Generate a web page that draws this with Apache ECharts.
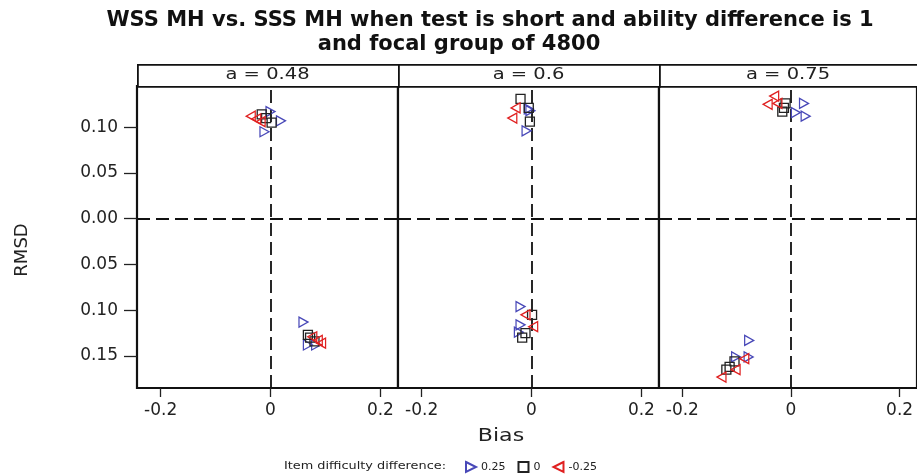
<!DOCTYPE html>
<html><head><meta charset="utf-8">
<script src="https://cdn.jsdelivr.net/npm/echarts@6/dist/echarts.min.js"></script>
<style>html,body{margin:0;padding:0;background:#fff}#c{width:917px;height:475px}</style>
</head><body><div id="c"></div>
<script>
// ---- data ----
const panelLabels = ['a = 0.48', 'a = 0.6', 'a = 0.75'];
const seriesNames = ['0.25', '0', '-0.25'];
const xTicks = [-0.2, 0, 0.2];
const yTicks = [0.10, 0.05, 0.00, -0.05, -0.10, -0.15];
// [bias, rmsd] ; upper half = WSS (positive), lower half = SSS (drawn negative)
const p048_pos = [[0.000, 0.117], [0.019, 0.107], [-0.011, 0.095], [0.060, -0.113], [0.068, -0.138], [0.083, -0.138]];
const p048_zero = [[-0.016, 0.114], [0.002, 0.105], [-0.008, 0.110], [0.068, -0.127], [0.080, -0.134], [0.072, -0.130]];
const p048_neg = [[-0.036, 0.112], [-0.018, 0.106], [-0.026, 0.109], [0.086, -0.133], [0.092, -0.136], [0.076, -0.129]];
const p06_pos = [[-0.005, 0.120], [-0.009, 0.096], [-0.002, 0.118], [-0.020, -0.096], [-0.020, -0.116], [-0.023, -0.124]];
const p06_zero = [[-0.020, 0.131], [-0.005, 0.121], [-0.003, 0.106], [0.001, -0.105], [-0.011, -0.125], [-0.017, -0.130]];
const p06_neg = [[-0.029, 0.121], [-0.035, 0.110], [-0.011, -0.105], [0.003, -0.118]];
const p075_pos = [[0.024, 0.126], [0.009, 0.116], [0.027, 0.112], [-0.077, -0.133], [-0.101, -0.151], [-0.078, -0.151]];
const p075_zero = [[-0.010, 0.126], [-0.016, 0.117], [-0.013, 0.121], [-0.104, -0.156], [-0.113, -0.162], [-0.119, -0.165]];
const p075_neg = [[-0.031, 0.134], [-0.043, 0.125], [-0.025, 0.126], [-0.086, -0.153], [-0.102, -0.165], [-0.128, -0.173]];
const panelData = [[p048_pos, p048_zero, p048_neg], [p06_pos, p06_zero, p06_neg], [p075_pos, p075_zero, p075_neg]];

// ---- styling / layout ----
const FONT = '"DejaVu Sans", "Liberation Sans", Arial, sans-serif';
const colors = ['#4848b8', '#222222', '#e02020'];
const symbols = ['path://M0,0 L10,5 L0,10 Z', 'rect', 'path://M10,0 L0,5 L10,10 Z'];
const symSizes = [[9, 10], 9, [9, 10]];
const gridLefts = [137, 398, 659];
const gridWidths = [261, 261, 258];
const gridTop = 86, gridH = 302;

const grids = [], xAxes = [], yAxes = [], series = [], graphics = [];
for (let i = 0; i < 3; i++) {
  grids.push({left: gridLefts[i], top: gridTop, width: gridWidths[i], height: gridH,
    show: true, borderColor: '#111', borderWidth: 2.2, backgroundColor: '#fff'});
  xAxes.push({gridIndex: i, type: 'value', min: -0.243, max: 0.232,
    axisLine: {show: false, onZero: false}, splitLine: {show: false},
    axisTick: {show: true, customValues: xTicks, length: 9, lineStyle: {color: '#222', width: 1.3}},
    axisLabel: {customValues: xTicks, color: '#222', fontSize: 17, fontFamily: FONT, margin: 14,
      formatter: v => (Math.abs(v) < 1e-9 ? '0' : String(v))}});
  yAxes.push({gridIndex: i, type: 'value', min: -0.185, max: 0.145,
    axisLine: {show: false, onZero: false}, splitLine: {show: false},
    axisTick: {show: i === 0, customValues: yTicks, length: 13, lineStyle: {color: '#222', width: 1.3}},
    axisLabel: {show: i === 0, customValues: yTicks, color: '#222', fontSize: 17, fontFamily: FONT, margin: 19,
      formatter: v => Math.abs(v).toFixed(2)}});
  for (let s = 0; s < 3; s++) {
    const ser = {type: 'scatter', name: seriesNames[s], xAxisIndex: i, yAxisIndex: i,
      data: panelData[i][s], symbol: symbols[s], symbolSize: symSizes[s], z: 5,
      itemStyle: {color: 'rgba(255,255,255,0)', borderColor: colors[s], borderWidth: 1.3, opacity: 1}};
    if (s === 0) {
      ser.markLine = {silent: true, symbol: 'none', z: 3, label: {show: false},
        lineStyle: {color: '#111', type: [13, 6], width: 1.8},
        data: [{xAxis: 0}, {yAxis: 0}]};
    }
    series.push(ser);
  }
  // strip
  graphics.push({type: 'rect', left: gridLefts[i], top: 64,
    shape: {width: gridWidths[i], height: 22},
    style: {fill: '#fff', stroke: '#111', lineWidth: 1.8}, z: 10});
  graphics.push({type: 'text', x: gridLefts[i] + gridWidths[i] / 2, y: 75, scaleX: 1.3,
    style: {text: panelLabels[i], fill: '#222', font: '15px ' + FONT, textAlign: 'center', textVerticalAlign: 'middle'}, z: 11});
}

graphics.push({type: 'text', x: 490, y: 21, style: {text: 'WSS MH vs. SSS MH when test is short and ability difference is 1',
  fill: '#111', font: 'bold 21px ' + FONT, textAlign: 'center', textVerticalAlign: 'middle'}});
graphics.push({type: 'text', x: 459, y: 45, style: {text: 'and focal group of 4800',
  fill: '#111', font: 'bold 21px ' + FONT, textAlign: 'center', textVerticalAlign: 'middle'}});
graphics.push({type: 'text', x: 501, y: 437, scaleX: 1.3, style: {text: 'Bias', fill: '#222', font: '17px ' + FONT,
  textAlign: 'center', textVerticalAlign: 'middle'}});
graphics.push({type: 'text', x: 22, y: 250, rotation: Math.PI / 2, style: {text: 'RMSD', fill: '#222', font: '18px ' + FONT,
  textAlign: 'center', textVerticalAlign: 'middle'}});
graphics.push({type: 'text', x: 446, y: 466, scaleX: 1.17, style: {text: 'Item difficulty difference:', fill: '#222', font: '11px ' + FONT,
  textAlign: 'right', textVerticalAlign: 'middle'}});

const chart = echarts.init(document.getElementById('c'), null, {renderer: 'canvas'});
chart.setOption({
  animation: false,
  backgroundColor: '#fff',
  grid: grids, xAxis: xAxes, yAxis: yAxes, series: series,
  legend: {data: seriesNames, left: 460, top: 456, itemWidth: 10, itemHeight: 10, itemGap: 12,
    textStyle: {color: '#222', fontSize: 11, fontFamily: FONT}},
  graphic: graphics
});
</script></body></html>
